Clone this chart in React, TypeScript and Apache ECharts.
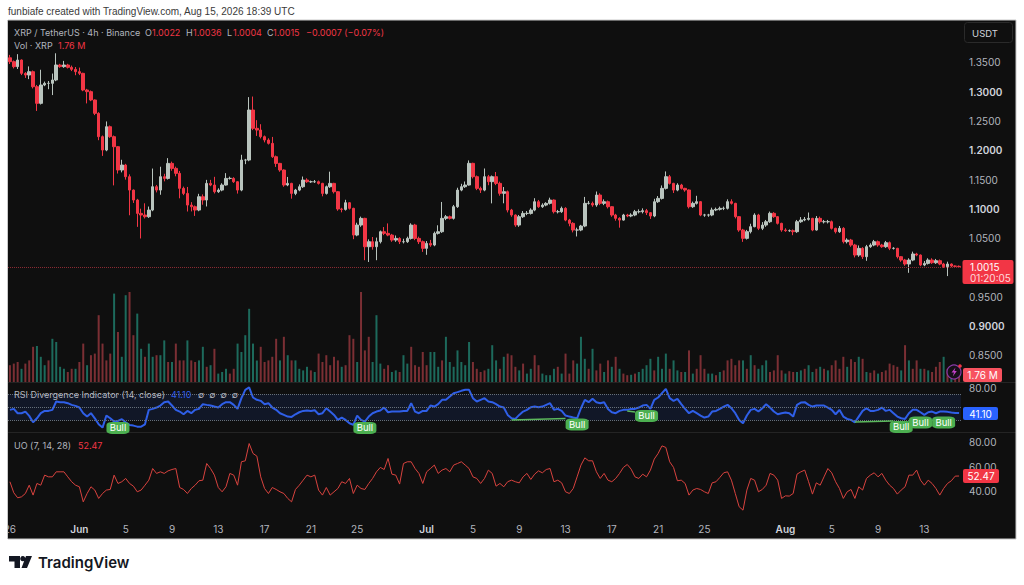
import React, { useEffect, useRef } from "react";
import * as echarts from "echarts";

const tickLabels: Record<number, string> = {
  0: "26", 18: "Jun", 30: "5", 42: "9", 54: "13", 66: "17", 78: "21", 90: "25",
  108: "Jul", 120: "5", 132: "9", 144: "13", 156: "17", 168: "21", 180: "25",
  201: "Aug", 213: "5", 225: "9", 237: "13",
};
const boldTicks = ["Jun", "Jul", "Aug"];
const boldPrices = ["1.3000", "1.2000", "1.1000", "0.9000"];
const hiddenPrices = ["1.0000"];

const closes = [
  1.3514,1.3429,1.3542,1.3315,1.3286,1.3343,1.3087,1.2803,1.3116,1.3144,
  1.3144,1.3201,1.3457,1.3429,1.3457,1.3417,1.3383,1.3343,1.3315,1.3030,
  1.3002,1.2860,1.2632,1.2234,1.2006,1.2404,1.2234,1.2063,1.1665,1.1750,
  1.1551,1.1323,1.1153,1.0925,1.0897,1.0868,1.0982,1.1380,1.1323,1.1551,
  1.1522,1.1778,1.1693,1.1608,1.1352,1.1266,1.1067,1.1039,1.0982,1.1209,
  1.1153,1.1437,1.1409,1.1295,1.1323,1.1409,1.1522,1.1522,1.1465,1.1323,
  1.1835,1.1835,1.2689,1.2376,1.2347,1.2234,1.2177,1.2120,1.1892,1.1778,
  1.1665,1.1409,1.1437,1.1266,1.1323,1.1380,1.1494,1.1465,1.1465,1.1465,
  1.1437,1.1266,1.1380,1.1437,1.1295,1.1000,1.0993,1.1107,1.1011,1.0555,
  1.0726,1.0840,1.0356,1.0442,1.0356,1.0442,1.0612,1.0584,1.0555,1.0470,
  1.0498,1.0442,1.0442,1.0498,1.0726,1.0498,1.0442,1.0328,1.0413,1.0385,
  1.0584,1.0612,1.0840,1.0868,1.0840,1.1039,1.1323,1.1380,1.1409,1.1779,
  1.1551,1.1352,1.1323,1.1551,1.1466,1.1551,1.1437,1.1267,1.1295,1.0982,
  1.0897,1.0726,1.0868,1.0925,1.0925,1.0982,1.1124,1.1039,1.1067,1.1096,
  1.1153,1.0954,1.0954,1.1011,1.0811,1.0755,1.0641,1.0641,1.0709,1.1096,
  1.1096,1.1068,1.1238,1.1096,1.1124,1.1039,1.0897,1.0840,1.0811,1.0897,
  1.0880,1.0897,1.0954,1.0954,1.0971,1.0937,1.0880,1.1124,1.1181,1.1352,
  1.1551,1.1437,1.1323,1.1409,1.1352,1.1324,1.1039,1.1096,1.1125,1.0897,
  1.0897,1.0897,1.0983,1.0994,1.1011,1.1011,1.1125,1.1096,1.0869,1.0641,
  1.0499,1.0613,1.0698,1.0897,1.0670,1.0726,1.0783,1.0926,1.0869,1.0755,
  1.0641,1.0630,1.0630,1.0613,1.0783,1.0812,1.0823,1.0840,1.0641,1.0840,
  1.0783,1.0783,1.0783,1.0670,1.0613,1.0670,1.0442,1.0470,1.0385,1.0214,
  1.0328,1.0186,1.0357,1.0385,1.0442,1.0385,1.0357,1.0425,1.0328,1.0328,
  1.0186,1.0129,1.0061,1.0129,1.0232,1.0214,1.0044,1.0072,1.0129,1.0083,
  1.0118,1.0061,1.0015,1.0061,1.0027,1.0022,1.0015,
];
const firstOpen = 1.358;
// wick lengths, in thousandths of a dollar
const upperWick = [
  5,2,10,1,2,9,2,3,26,3, 4,11,20,2,7,2,3,4,7,1, 2,2,1,2,2,9,2,2,1,9, 2,4,1,2,8,20,6,31,3,17,
  5,9,3,3,4,3,11,5,2,5, 4,6,6,14,3,3,9,3,2,1, 9,2,22,23,14,10,2,3,11,2, 1,1,11,1,2,4,6,3,2,3,
  2,1,2,20,1,1,2,5,1,1, 4,3,1,4,8,7,2,8,17,2, 5,2,5,3,3,2,3,2,4,6, 3,11,28,3,2,3,4,5,6,5,
  1,2,3,14,3,2,8,3,8,2, 2,1,3,4,4,3,6,3,3,2, 4,1,3,3,2,2,2,4,2,11, 4,3,6,3,4,2,1,2,2,2,
  2,3,3,4,4,3,1,5,4,5, 9,3,1,3,2,1,1,3,10,1, 2,2,4,3,3,3,4,4,1,1, 2,3,5,3,2,5,3,3,2,1,
  1,3,2,2,3,5,4,10,1,4, 3,3,3,2,1,4,2,3,2,2, 5,2,3,3,3,2,2,3,2,2, 1,1,2,3,4,2,1,4,3,3,
  3,2,2,4,1,1,1.4,
];
const lowerWick = [
  4,3,4,3,5,7,3,13,2,2, 10,20,2,2,2,2,3,6,3,2, 20,2,3,6,10,2,2,66,6,4, 5,43,5,23,40,3,2,2,4,8,
  5,2,4,5,17,3,11,8,10,2, 8,11,2,3,2,2,1,2,2,6, 2,7,2,3,10,3,4,2,2,6, 3,3,2,9,3,2,2,2,2,2,
  2,5,2,2,3,3,5,2,2,7, 2,3,23,26,5,23,3,3,2,3, 3,4,3,2,2,3,4,6,11,3, 2,2,2,3,2,2,2,2,2,1,
  3,3,5,2,6,37,3,4,17,4, 3,3,3,2,3,2,2,2,2,2, 2,3,3,2,2,5,4,11,2,2, 2,3,3,3,3,3,3,4,13,1,
  2,2,2,3,3,4,5,2,2,2, 2,2,5,2,2,3,3,2,2,2, 3,3,2,2,2,3,2,2,3,3, 6,2,3,1,3,3,3,2,2,2,
  3,2,2,6,2,2,2,2,2,1, 3,3,3,2,3,2,3,3,3,4, 3,4,7,2,2,3,2,2,3,2, 3,3,3,15,2,2,2,2,2,2,
  2,2,2,16,2,1,1.1,
];
// volume in millions; negative = red bar
const volumes = [
  -4.2,-4.6,-5,3.3,-4.6,-5.4,-8.8,9,6.3,4.2, -5.4,10.8,10,3.8,3.3,-2.5,-3.3,3.3,-5,-9.6,
  4.2,-6.7,-7.1,-16.7,-9.6,-5.4,-7.1,22.1,-12.5,6.3, 21.7,-22.5,-11.7,17.1,8.3,-6.3,9.6,6.3,-6.7,6.7,
  10.4,-5,5,-9.6,-5.4,-5.4,10.4,-5.4,-5,5.4, 8.8,-3.8,4.2,-8.3,2.1,2.5,3.3,-2.1,-3.3,9.6,
  7.5,11.7,18.3,9.6,5.4,-8.8,-5,-5.4,-6.3,-10.8, 5.4,-11.3,6.7,-5.4,5.4,3.3,2.9,3.8,-2.9,2.5,
  -7.1,-5,-6.7,-4.2,-6.3,-5.4,3.8,-4.2,-11.7,-10.8, 5,-22.5,-7.9,-11.3,5,16.7,4.6,-3.3,-4.2,2.5,
  2.9,-2.5,6.7,4.6,-8.8,-4.2,-3.8,-7.5,-4.2,7.5, 7.5,3.8,-5.4,11.3,5,3.8,7.9,5,4.2,10,
  -5,-3.3,-2.5,-2.9,3.3,9.2,5.4,-3.3,6.3,-7.1, -6.7,-3.8,2.9,-4.6,2.1,3.3,-6.7,-4.2,2.1,1.7,
  1.7,3.3,-3.8,2.1,-7.1,-2.1,-5.4,4.6,11.3,5.8, -3.3,8.3,-2.9,-4.6,2.5,-5.4,3.8,-6.3,3.3,-2.1,
  -1.7,1.8,-2.1,2.5,3.3,4.2,5.8,-2.9,6.3,3.3, 7.1,-3.3,5.4,2.9,-2.5,2.5,-7.9,2.1,-3.3,-6.7,
  -3.3,2.1,2.1,-1.7,2.5,-2.9,-5.4,-5.8,-4.2,-5.4, 5.4,-3.3,6.7,-4.2,3.3,4.2,5.4,-2.5,-2.9,-6.7,
  -2.9,2.1,-2.7,-2.5,2.5,2.9,-3.3,4.2,2.5,-3.3, 3.8,-3.3,2.9,-4.2,-5.4,-3.3,-6.3,3.8,-5.7,-5,
  6.3,-5.8,2.5,-2.3,-2.9,2.1,-2.5,-2.9,-4.6,-4.2, -3.8,2.9,-9.2,5.4,-3.3,-5.4,3.3,-3.3,2.9,-2.5,
  -3.8,-5,6.3,-3.3,2.9,-2.5,-1.76,
];
const rsi = [
  45.9,47.4,40.7,40.7,43.3,36.6,26.7,32.9,40.7,44.3,
  44.3,45.9,58.8,57.8,57.8,56.2,53.6,52.1,49.5,40.7,
  35.5,40.7,32.9,23.6,18.5,37.1,32.9,27.8,28.8,31.4,
  26.7,22.6,21.6,20,20,23.6,45.9,47.4,49.5,52.6,
  57.8,58.8,52.6,45.9,43.3,39.1,44.3,40.7,45.9,47.4,
  54.7,53.6,52.6,51,49.5,54.7,57.8,57.8,53.6,47.4,
  64,76.9,80.5,65,61.4,59.8,54.7,56.2,49.5,45.9,
  40.7,38.1,35.5,35,39.1,42.2,44.3,44.8,44.3,45.3,
  39.1,40.7,48.4,43.3,38.1,30.4,34,30.4,25.2,22.6,
  37.1,30.4,27.8,35.5,40.7,43.3,44.8,49.5,42.2,43.3,
  43.3,43.3,44.3,44.3,56.2,43.3,40.7,44.3,44.3,52.6,
  51,54.7,61.4,61.4,66.5,71.7,73.3,75.3,76.9,76.9,
  64,58.8,61.4,64,58.8,57.8,54.7,51,49.5,38.1,
  32.9,31.9,38.1,43.3,45.9,50,51,50,51,53.6,
  56.2,45.9,47.4,44.3,37.1,35.5,34,32.9,48.4,61.4,
  57.8,62.9,57.8,56.2,57.8,47.4,42.2,40.7,44.3,45.9,
  45.9,47.4,47.4,49.5,52.6,53.6,47.4,61.4,65,71.7,
  78.4,64,59.8,62.9,54.7,47.4,40.7,44.3,40.7,37.1,
  34,35.5,43.3,44.3,47.4,51,53.6,48.4,40.7,30.4,
  25.2,37.1,45.9,47.4,43.3,48.4,54.7,49.5,43.3,39.1,
  40.7,41.7,40.7,35.5,53.6,57.2,57.8,53.6,51,52.6,
  52.6,52.6,49.5,45.9,39.1,45.9,35.5,31.9,30.4,26.7,
  35.5,44.3,48.4,44.3,44.3,45.9,49.5,44.3,45.9,40.7,
  35.5,32.9,31.9,40.7,45.9,45.9,42.2,38.1,42.2,43.3,
  40.7,43.3,43.3,42.8,41.7,41.2,41.1,
];
const uo = [
  47.8,38.8,34.7,35.5,38.2,45,36.9,46.4,45,53.2,
  51.8,51.8,55.9,55.9,55.9,51.8,47.8,45,43.7,31.4,
  38.2,43.7,41,34.2,38.2,41,41.5,53.2,46.4,47.8,
  50.5,46.4,44.2,39.6,41,45,49.1,58.6,54.6,55.9,
  54.6,56.7,57.8,58.6,43.1,41.5,38.2,42.3,45,48.6,
  49.1,62.7,58.6,53.2,43.1,39.6,43.7,54.6,53.2,45,
  64.1,64.9,79,70.9,68.7,51.8,42.3,38.2,43.1,41.5,
  39.6,38.2,34.2,31.4,41.5,45,49.1,53.2,51.8,53.2,
  41,36.9,43.1,36.9,39.6,42.3,47.8,46.4,50.5,38.2,
  45,42.3,41.5,46.4,50.5,55.9,59.5,57.8,66.8,54,
  53.2,45.9,62.7,64.1,64.1,58.6,54.6,46.4,55.9,58.6,
  61.4,54.6,57.3,58.6,55.9,61.4,62.7,64.1,61.4,58.6,
  51.8,50.5,46.4,50.5,57.3,54.6,44.2,46.4,43.7,47.8,
  49.1,47.8,46.9,51.8,54.6,49.7,54,56.7,55.1,57.8,
  58.6,47.8,49.1,46.9,39.6,38.2,42.3,51.8,61.4,67.3,
  64.9,64.9,55.9,50.5,54.6,49.1,47.8,50.5,54.6,59.5,
  61.9,58.1,51.8,50.5,54,51.8,57.3,66.3,70.9,77.1,
  75.8,64.1,59.5,48.6,49.1,46.4,36.9,41,42.3,41.5,
  39.6,38.2,46.9,47.8,51.3,55.1,55.9,49.1,38.2,27.4,
  24.6,41,50.5,49.1,39.6,41.5,45,54.6,53.2,49.1,
  34.2,36.3,36.1,38.2,54,55.9,57.3,47.8,37.7,46.9,
  45,51.8,58.6,55.1,47.8,42.3,34.2,39.6,41.5,34.2,
  43.7,41,50.5,53.2,55.1,51.8,54.6,49.1,45,42.3,
  37.7,41,43.7,53.2,53.2,57.3,49.1,45,49.1,46.4,
  42.3,36.9,42.3,46.4,48.6,52.4,52.47,
];
const bullIndex = [28, 92, 147, 165, 231, 236, 242];
const bullValue = [17.9, 17.9, 23.3, 36.5, 19.5, 26.4, 26.4];
const divergences = [
  [130, 30.3, 144, 32.6],
  [160, 44.3, 162, 42.7],
  [219, 27.2, 229, 28.8],
];
const lastPrice = 1.0015;

const FONT = "Inter, 'Noto Sans', sans-serif";
const GREY = "#b2b5be";
const RED = "#f23645";
const UP = "#b9c4be";
const BG = "#0f0f0f";

const categories = closes.map((_, i) => tickLabels[i] ?? "");
const candles = closes.map((c, i) => {
  const o = i === 0 ? firstOpen : closes[i - 1];
  return [o, c, Math.min(o, c) - lowerWick[i] / 1000, Math.max(o, c) + upperWick[i] / 1000];
});

function registerShapes() {
  echarts.graphic.registerShape(
    "tvlogo",
    echarts.graphic.extendPath(
      "M0 0H11V12H5.5V5.5H0ZM17 0H23L18 12H12.5ZM13.8 0.1A2.6 2.6 0 1 1 13.79 0.1Z",
      {}
    )
  );
}

function txt(x: number, y: number, text: string, fill = GREY, fontSize = 9, extra: any = {}) {
  return {
    type: "text", x, y, z: 100, silent: true,
    style: { text, fill, fontSize, fontFamily: FONT, textVerticalAlign: "middle", ...extra },
  };
}
function tag(x: number, y: number, w: number, h: number, fill: string) {
  return { type: "rect", z: 99, silent: true, shape: { x, y, width: w, height: h, r: 2 }, style: { fill } };
}

export default function App() {
  const ref = useRef<HTMLDivElement>(null);
  useEffect(() => {
    registerShapes();
    const chart = echarts.init(ref.current!, null, { renderer: "svg" });
    const L = 8, W = 953;
    const xAxis = [0, 1, 2, 3].map((g) => ({
      type: "category", gridIndex: g, data: categories, boundaryGap: true,
      axisLine: { show: false }, axisTick: { show: false }, splitLine: { show: false },
      axisLabel: g === 3
        ? {
            show: true, margin: 8, hideOverlap: false, fontFamily: FONT, fontSize: 10, color: GREY,
            interval: (i: number) => tickLabels[i] !== undefined,
            formatter: (v: string) => (boldTicks.includes(v) ? `{b|${v}}` : v),
            rich: { b: { fontFamily: FONT, fontSize: 10, fontWeight: 600, color: "#d1d4dc" } },
          }
        : { show: false },
    }));
    const baseY = { axisLine: { show: false }, axisTick: { show: false }, splitLine: { show: false } };
    chart.setOption({
      animation: false,
      backgroundColor: "#ffffff",
      grid: [
        { left: L, width: W, top: 20, height: 364.8 },
        { left: L, width: W, top: 282, height: 100 },
        { left: L, width: W, top: 383, height: 50.1 },
        { left: L, width: W, top: 433, height: 82.8 },
      ],
      xAxis,
      yAxis: [
        {
          ...baseY, type: "value", gridIndex: 0, position: "right", min: 0.8, max: 1.4225, interval: 0.05,
          axisLabel: {
            show: true, showMinLabel: false, showMaxLabel: false, margin: 8, fontFamily: FONT, fontSize: 10, color: GREY,
            formatter: (v: number) => {
              const s = v.toFixed(4);
              if (hiddenPrices.includes(s)) return "";
              return boldPrices.includes(s) ? `{b|${s}}` : s;
            },
            rich: { b: { fontFamily: FONT, fontSize: 10, fontWeight: 600, color: "#d1d4dc" } },
          },
        },
        { ...baseY, type: "value", gridIndex: 1, position: "right", min: 0, max: 25, axisLabel: { show: false } },
        {
          ...baseY, type: "value", gridIndex: 2, position: "right", min: 10, max: 87.4, interval: 10,
          axisLabel: {
            show: true, margin: 8, showMinLabel: false, showMaxLabel: false, fontFamily: FONT, fontSize: 10, color: GREY,
            formatter: (v: number) => (v === 80 ? "80.00" : ""),
          },
        },
        {
          ...baseY, type: "value", gridIndex: 3, position: "right", min: 20, max: 87.6, interval: 20,
          axisLabel: {
            show: true, margin: 8, showMinLabel: false, showMaxLabel: false, fontFamily: FONT, fontSize: 10, color: GREY,
            formatter: (v: number) => v.toFixed(2),
          },
        },
      ],
      series: [
        {
          type: "bar", name: "Vol", xAxisIndex: 1, yAxisIndex: 1, barWidth: 2, z: 1,
          data: volumes.map((v) => ({
            value: Math.abs(v),
            itemStyle: { color: v >= 0 ? "#1d6a5c" : "#7b2f34" },
          })),
        },
        {
          type: "candlestick", name: "XRP", xAxisIndex: 0, yAxisIndex: 0, barWidth: 3, z: 3,
          data: candles,
          itemStyle: { color: UP, color0: RED, borderColor: UP, borderColor0: RED, borderWidth: 1 },
          markLine: {
            silent: true, symbol: "none", label: { show: false },
            lineStyle: { color: "#8a2a32", type: "dotted", width: 1, opacity: 1 },
            data: [{ yAxis: lastPrice }],
          },
        },
        {
          type: "line", name: "RSI", xAxisIndex: 2, yAxisIndex: 2, data: rsi, showSymbol: false, symbol: "none", z: 4,
          lineStyle: { color: "#2f5fe8", width: 2 },
          markArea: {
            silent: true, itemStyle: { color: "rgba(41,98,255,0.1)" },
            data: [[{ yAxis: 30 }, { yAxis: 70 }]],
          },
          markLine: {
            silent: true, symbol: "none", label: { show: false },
            lineStyle: { color: "#66707a", type: "dotted", width: 1 },
            data: [{ yAxis: 70 }, { yAxis: 50 }, { yAxis: 30 }],
          },
        },
        {
          type: "line", name: "Divergence", xAxisIndex: 2, yAxisIndex: 2, data: [], z: 5,
          markLine: {
            silent: true, symbol: "none", label: { show: false },
            lineStyle: { color: "#5cb85c", type: "solid", width: 1.5 },
            data: divergences.map(([a, b, c, d]) => [{ coord: [a, b] }, { coord: [c, d] }]),
          },
        },
        {
          type: "scatter", name: "Bull", xAxisIndex: 2, yAxisIndex: 2, z: 6, clip: false,
          symbol: "roundRect", symbolSize: [23, 12],
          itemStyle: { color: "#4caf50", opacity: 1 },
          label: {
            show: true, position: "inside", formatter: "Bull", color: "#ffffff",
            fontFamily: FONT, fontSize: 9.5, textBorderWidth: 0, textBorderColor: "transparent",
          },
          data: bullIndex.map((x, i) => [x, bullValue[i]]),
        },
        {
          type: "line", name: "UO", xAxisIndex: 3, yAxisIndex: 3, data: uo, showSymbol: false, symbol: "none", z: 4,
          lineStyle: { color: "#d8433f", width: 1 },
        },
      ],
      graphic: [
        { type: "rect", z: -10, silent: true, shape: { x: 8, y: 20, width: 1008, height: 519 }, style: { fill: BG } },
        { type: "rect", z: 98, silent: true, shape: { x: 0, y: 20, width: 8, height: 519 }, style: { fill: "#ffffff" } },
        { type: "line", z: 98, silent: true, shape: { x1: 7.5, y1: 20, x2: 7.5, y2: 539 }, style: { stroke: "#c9c9c9", lineWidth: 1 } },
        { type: "line", z: 98, silent: true, shape: { x1: 8, y1: 20, x2: 1016, y2: 20 }, style: { stroke: "#c9c9c9", lineWidth: 1 } },
        { type: "line", z: 98, silent: true, shape: { x1: 8, y1: 539, x2: 1016, y2: 539 }, style: { stroke: "#c9c9c9", lineWidth: 1 } },
        { type: "line", z: 98, silent: true, shape: { x1: 1016, y1: 20, x2: 1016, y2: 539 }, style: { stroke: "#c9c9c9", lineWidth: 1 } },
        { type: "line", z: 2, silent: true, shape: { x1: 8, y1: 382.5, x2: 1016, y2: 382.5 }, style: { stroke: "#242424", lineWidth: 1 } },
        { type: "line", z: 2, silent: true, shape: { x1: 8, y1: 432.5, x2: 1016, y2: 432.5 }, style: { stroke: "#242424", lineWidth: 1 } },

        txt(8, 11.5, "funbiafe created with TradingView.com, Aug 15, 2026 18:39 UTC", "#3a3a3a", 10, { fontFamily: "'Liberation Sans', sans-serif" }),

        txt(14, 32, "XRP / TetherUS · 4h · Binance"),
        txt(145, 32, "O"), txt(152, 32, "1.0022", RED),
        txt(186, 32, "H"), txt(193, 32, "1.0036", RED),
        txt(227, 32, "L"), txt(233, 32, "1.0004", RED),
        txt(267, 32, "C"), txt(273, 32, "1.0015", RED),
        txt(306, 32, "−0.0007 (−0.07%)", RED),
        txt(14, 45, "Vol · XRP"), txt(58, 45, "1.76 M", RED),

        txt(14, 394.5, "RSI Divergence Indicator (14, close)"),
        txt(171, 394.5, "41.10", "#2f5fe8"),
        txt(198, 394.5, "∅  ∅  ∅  ∅", GREY, 9),

        txt(14, 445.5, "UO (7, 14, 28)"),
        txt(78, 445.5, "52.47", RED),

        { type: "rect", z: 99, silent: true, shape: { x: 964.5, y: 22.5, width: 48, height: 20, r: 3 }, style: { fill: BG, stroke: "#2a2a2a", lineWidth: 1 } },
        txt(985, 33, "USDT", "#d1d4dc", 9.5, { textAlign: "center" }),

        tag(962.5, 260, 51, 24, RED),
        txt(970, 267, "1.0015", "#ffffff", 10),
        txt(970, 277.5, "01:20:05", "#ffd9dc", 10),

        tag(963, 368, 39, 14, "#f7525f"),
        txt(982.5, 375, "1.76 M", "#ffffff", 10, { textAlign: "center" }),

        tag(963, 407, 35, 13, "#2962ff"),
        txt(980.5, 413.5, "41.10", "#ffffff", 10, { textAlign: "center" }),

        tag(963, 469, 36, 14, RED),
        txt(981, 476, "52.47", "#ffffff", 10, { textAlign: "center" }),

        { type: "circle", z: 97, silent: true, shape: { cx: 954, cy: 372, r: 7 }, style: { fill: "#161018", stroke: "#8a3aa8", lineWidth: 1.2 } },
        { type: "polygon", z: 98, silent: true, shape: { points: [[955.5, 367.5], [951.5, 372.5], [954, 372.5], [952.8, 376.5], [956.8, 371], [954.4, 371]] }, style: { fill: "#c040c8" } },
        { type: "circle", z: 98, silent: true, shape: { cx: 960, cy: 366, r: 1.8 }, style: { fill: RED } },

        { type: "tvlogo", x: 9, y: 556, z: 100, silent: true, style: { fill: "#131722" } },
        txt(38, 562.5, "TradingView", "#131722", 15, { fontWeight: 600 }),
      ],
    });
    return () => chart.dispose();
  }, []);
  return (
    <div
      ref={ref}
      style={{ position: "absolute", left: 0, top: 0, width: 1024, height: 585 }}
    />
  );
}
